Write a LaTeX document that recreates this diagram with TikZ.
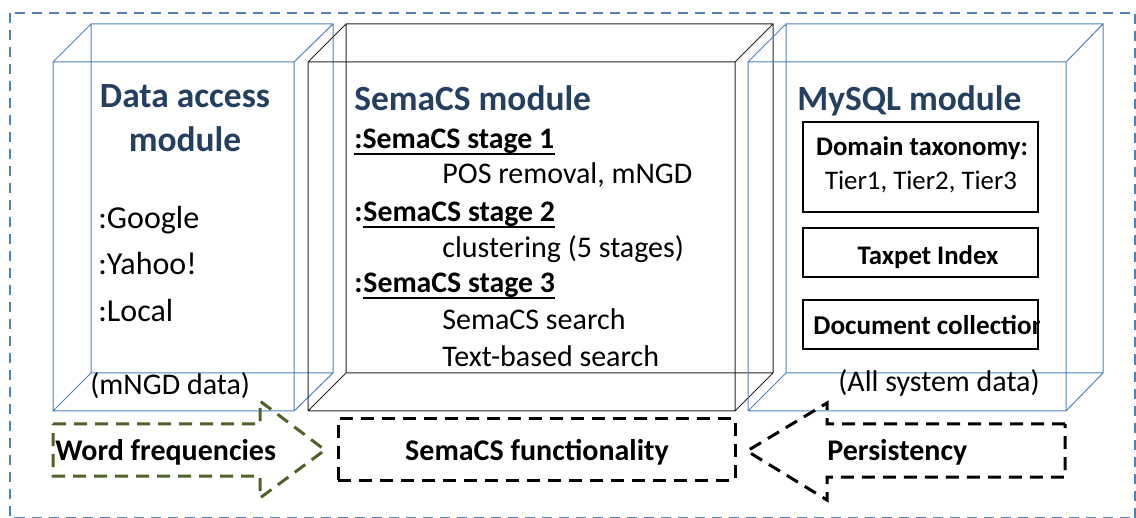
\documentclass[tikz,border=0pt]{standalone}
\usepackage{fontspec}
\setmainfont{Carlito}
\usetikzlibrary{positioning}
\definecolor{headblue}{HTML}{243F60}
\definecolor{lineblue}{HTML}{4F81BD}
\definecolor{olivegreen}{HTML}{4F6228}

\begin{document}
\begin{tikzpicture}[x=0.5pt,y=-0.5pt,
bluecube/.style={draw=lineblue,line width=0.5pt},
blackcube/.style={draw=black!85,line width=0.5pt},
head/.style={inner sep=0pt,text=headblue,font=\fontsize{17.7}{22}\selectfont\bfseries},
big/.style={inner sep=0pt,font=\fontsize{16}{20}\selectfont},
txt/.style={inner sep=0pt,font=\fontsize{15}{18}\selectfont},
stage/.style={inner sep=0pt,font=\fontsize{14.9}{18}\selectfont\bfseries},
uline/.style={line width=1.3pt},
dbbox/.style={draw,line width=1pt,minimum width=117.5pt,minimum height=24.5pt,inner sep=0pt},
dblabel/.style={inner sep=0pt,font=\fontsize{13.4}{16}\selectfont\bfseries},
flow/.style={line width=1.5pt,dash pattern=on 6.5pt off 4pt},
flowlabel/.style={inner sep=0pt,font=\fontsize{15}{18}\selectfont\bfseries}]
\useasboundingbox (0,0) rectangle (1136,518);
\draw[lineblue,line width=1.3pt,dash pattern=on 5pt off 3.5pt] (10,13) rectangle (1135.5,518.5);

% the three modules
\draw[bluecube] (53,62) rectangle (294,411) (91,24) rectangle (333,373)
  (53,62)--(91,24) (294,62)--(333,24) (294,411)--(333,373) (53,411)--(91,373);
\draw[blackcube] (308,62) rectangle (735,411) (346,24) rectangle (773,373)
  (308,62)--(346,24) (735,62)--(773,24) (735,411)--(773,373) (308,411)--(346,373);
\draw[bluecube] (748,62) rectangle (1066,411) (786,24) rectangle (1103,373)
  (748,62)--(786,24) (1066,62)--(1103,24) (1066,411)--(1103,373) (748,411)--(786,373);

% data access module
\node[head,anchor=base] (dah1) at (185,108) {Data access};
\node[head,anchor=base] (dah2) at (185,152) {module};
\node[big,anchor=base west] (google) at (98,229) {:Google};
\node[big,anchor=base west] (yahoo) at (98,275) {:Yahoo!};
\node[big,anchor=base west] (local) at (98,322) {:Local};
\node[txt,anchor=base west] (mngd) at (90,394) {(mNGD data)};

% semacs module
\node[head,anchor=base west] (smh) at (354,111) {SemaCS module};
\node[stage,anchor=base west] (st1) at (354,149) {:SemaCS stage 1};
\draw[uline] ([yshift=-2.6pt]st1.base west) -- ([yshift=-2.6pt]st1.base east);
\node[txt,anchor=base west] (pos) at (442,184) {POS removal, mNGD};
\node[stage,anchor=base west] (st2c) at (354,222) {:};
\node[stage,anchor=base west] (st2) at (st2c.base east) {SemaCS stage 2};
\draw[uline] ([yshift=-2.6pt]st2.base west) -- ([yshift=-2.6pt]st2.base east);
\node[txt,anchor=base west] (clus) at (442,258) {clustering (5 stages)};
\node[stage,anchor=base west] (st3c) at (354,293) {:};
\node[stage,anchor=base west] (st3) at (st3c.base east) {SemaCS stage 3};
\draw[uline] ([yshift=-2.6pt]st3.base west) -- ([yshift=-2.6pt]st3.base east);
\node[txt,anchor=base west] (ssearch) at (442,330) {SemaCS search};
\node[txt,anchor=base west] (tsearch) at (442,366) {Text-based search};

% mysql module
\node[head,anchor=base west] (myh) at (797,111) {MySQL module};
\node[dbbox] (tax) at (920.5,167) [minimum height=45pt] {};
\node[dblabel,anchor=base] (taxt) at (922,156) {Domain taxonomy:};
\node[inner sep=0pt,anchor=base,font=\fontsize{13.4}{16}\selectfont] (tiers) at (921,190) {Tier1, Tier2, Tier3};
\node[dbbox] (idx) at (920.5,252.5) {};
\node[dblabel,anchor=base] (idxt) at (928,265) {Taxpet Index};
\node[dbbox] (doc) at (920.5,324.5) {};
\begin{scope}
\clip (doc.south west) rectangle (doc.north east);
\node[dblabel,anchor=base west,font=\fontsize{13.6}{16}\selectfont\bfseries] (doct) at (813,335) {Document collection};
\end{scope}
\node[txt,anchor=base west] (alldata) at (838,392) {(All system data)};

% functional flows
\draw[flow,olivegreen] (53,424) -- (260,424) -- (260,401) -- (325,450) -- (260,498) -- (260,476) -- (53,476) -- cycle;
\node[flowlabel,anchor=base west] (wf) at (55,460) {Word frequencies};
\node[draw,flow,minimum width=198.5pt,minimum height=30.5pt] (func) at (536.5,449.5) {};
\node[flowlabel,anchor=base] (funct) at (537,460) {SemaCS functionality};
\draw[flow] (1065,424) -- (827,424) -- (827,403) -- (747,451) -- (827,500) -- (827,477) -- (1065,477) -- cycle;
\node[flowlabel,anchor=base west] (pers) at (827,460) {Persistency};
\end{tikzpicture}
\end{document}
